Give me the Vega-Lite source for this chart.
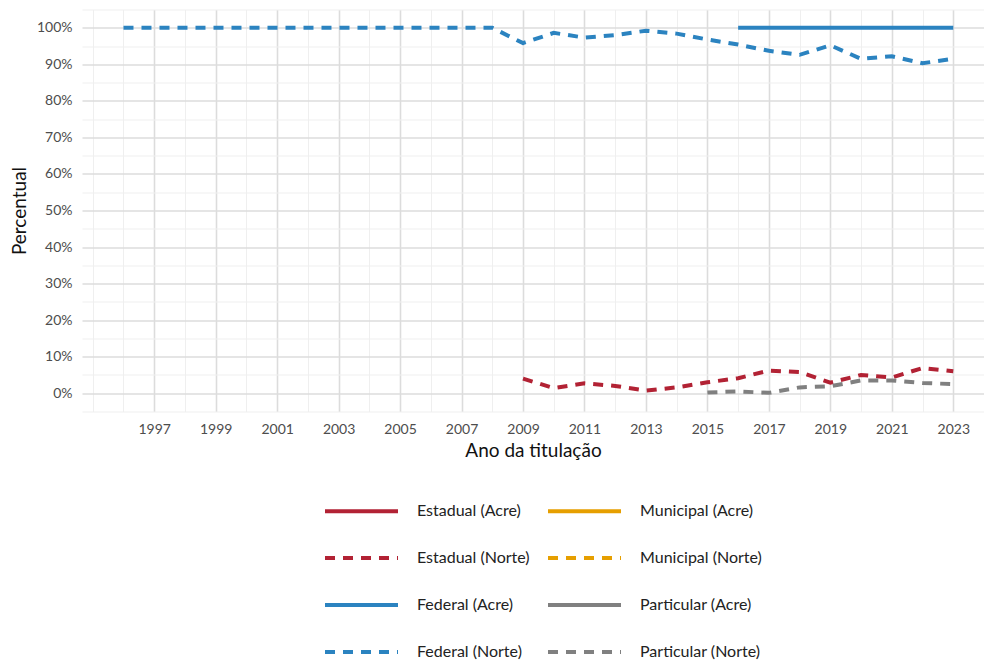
{
  "$schema": "https://vega.github.io/schema/vega-lite/v6.json",
  "autosize": {"type": "none"},
  "width": 902,
  "height": 402,
  "padding": {"left": 82, "top": 9.5, "right": 0, "bottom": 249.5},
  "background": "white",
  "config": {
    "font": "Lato",
    "view": {"stroke": null},
    "axis": {"domain": false, "ticks": false, "labelColor": "#4d4d4d", "labelFontSize": 14, "titleColor": "#111111", "titleFontSize": 19, "titleFontWeight": "normal"}
  },
  "data": {"values": [
    {"ano": 1996, "serie": "Federal (Norte)", "pct": 1.0},
    {"ano": 1997, "serie": "Federal (Norte)", "pct": 1.0},
    {"ano": 1998, "serie": "Federal (Norte)", "pct": 1.0},
    {"ano": 1999, "serie": "Federal (Norte)", "pct": 1.0},
    {"ano": 2000, "serie": "Federal (Norte)", "pct": 1.0},
    {"ano": 2001, "serie": "Federal (Norte)", "pct": 1.0},
    {"ano": 2002, "serie": "Federal (Norte)", "pct": 1.0},
    {"ano": 2003, "serie": "Federal (Norte)", "pct": 1.0},
    {"ano": 2004, "serie": "Federal (Norte)", "pct": 1.0},
    {"ano": 2005, "serie": "Federal (Norte)", "pct": 1.0},
    {"ano": 2006, "serie": "Federal (Norte)", "pct": 1.0},
    {"ano": 2007, "serie": "Federal (Norte)", "pct": 1.0},
    {"ano": 2008, "serie": "Federal (Norte)", "pct": 1.0},
    {"ano": 2009, "serie": "Federal (Norte)", "pct": 0.958},
    {"ano": 2010, "serie": "Federal (Norte)", "pct": 0.986},
    {"ano": 2011, "serie": "Federal (Norte)", "pct": 0.973},
    {"ano": 2012, "serie": "Federal (Norte)", "pct": 0.980},
    {"ano": 2013, "serie": "Federal (Norte)", "pct": 0.992},
    {"ano": 2014, "serie": "Federal (Norte)", "pct": 0.984},
    {"ano": 2015, "serie": "Federal (Norte)", "pct": 0.968},
    {"ano": 2016, "serie": "Federal (Norte)", "pct": 0.954},
    {"ano": 2017, "serie": "Federal (Norte)", "pct": 0.937},
    {"ano": 2018, "serie": "Federal (Norte)", "pct": 0.926},
    {"ano": 2019, "serie": "Federal (Norte)", "pct": 0.952},
    {"ano": 2020, "serie": "Federal (Norte)", "pct": 0.915},
    {"ano": 2021, "serie": "Federal (Norte)", "pct": 0.922},
    {"ano": 2022, "serie": "Federal (Norte)", "pct": 0.903},
    {"ano": 2023, "serie": "Federal (Norte)", "pct": 0.915},
    {"ano": 2016, "serie": "Federal (Acre)", "pct": 1.0},
    {"ano": 2017, "serie": "Federal (Acre)", "pct": 1.0},
    {"ano": 2018, "serie": "Federal (Acre)", "pct": 1.0},
    {"ano": 2019, "serie": "Federal (Acre)", "pct": 1.0},
    {"ano": 2020, "serie": "Federal (Acre)", "pct": 1.0},
    {"ano": 2021, "serie": "Federal (Acre)", "pct": 1.0},
    {"ano": 2022, "serie": "Federal (Acre)", "pct": 1.0},
    {"ano": 2023, "serie": "Federal (Acre)", "pct": 1.0},
    {"ano": 2009, "serie": "Estadual (Norte)", "pct": 0.040},
    {"ano": 2010, "serie": "Estadual (Norte)", "pct": 0.014},
    {"ano": 2011, "serie": "Estadual (Norte)", "pct": 0.027},
    {"ano": 2012, "serie": "Estadual (Norte)", "pct": 0.020},
    {"ano": 2013, "serie": "Estadual (Norte)", "pct": 0.007},
    {"ano": 2014, "serie": "Estadual (Norte)", "pct": 0.016},
    {"ano": 2015, "serie": "Estadual (Norte)", "pct": 0.030},
    {"ano": 2016, "serie": "Estadual (Norte)", "pct": 0.041},
    {"ano": 2017, "serie": "Estadual (Norte)", "pct": 0.062},
    {"ano": 2018, "serie": "Estadual (Norte)", "pct": 0.058},
    {"ano": 2019, "serie": "Estadual (Norte)", "pct": 0.029},
    {"ano": 2020, "serie": "Estadual (Norte)", "pct": 0.050},
    {"ano": 2021, "serie": "Estadual (Norte)", "pct": 0.043},
    {"ano": 2022, "serie": "Estadual (Norte)", "pct": 0.069},
    {"ano": 2023, "serie": "Estadual (Norte)", "pct": 0.060},
    {"ano": 2015, "serie": "Particular (Norte)", "pct": 0.002},
    {"ano": 2016, "serie": "Particular (Norte)", "pct": 0.005},
    {"ano": 2017, "serie": "Particular (Norte)", "pct": 0.001},
    {"ano": 2018, "serie": "Particular (Norte)", "pct": 0.016},
    {"ano": 2019, "serie": "Particular (Norte)", "pct": 0.019},
    {"ano": 2020, "serie": "Particular (Norte)", "pct": 0.035},
    {"ano": 2021, "serie": "Particular (Norte)", "pct": 0.035},
    {"ano": 2022, "serie": "Particular (Norte)", "pct": 0.028},
    {"ano": 2023, "serie": "Particular (Norte)", "pct": 0.025}
  ]},
  "mark": {"type": "line", "strokeWidth": 4, "clip": true},
  "encoding": {
    "x": {
      "field": "ano", "type": "quantitative",
      "scale": {"domain": [1994.65, 2024.0], "nice": false, "zero": false},
      "axis": {
        "title": "Ano da titulação",
        "values": [1995, 1996, 1997, 1998, 1999, 2000, 2001, 2002, 2003, 2004, 2005, 2006, 2007, 2008, 2009, 2010, 2011, 2012, 2013, 2014, 2015, 2016, 2017, 2018, 2019, 2020, 2021, 2022, 2023, 2024],
        "labelExpr": "(datum.value % 2 == 1 && datum.value >= 1997) ? datum.value : ''",
        "labelPadding": 11,
        "titlePadding": 5,
        "gridColor": {"condition": {"test": "datum.value % 2 == 1 && datum.value >= 1997", "value": "#dcdcdc"}, "value": "#efefef"},
        "gridWidth": {"condition": {"test": "datum.value % 2 == 1 && datum.value >= 1997", "value": 1.6}, "value": 1.1}
      }
    },
    "y": {
      "field": "pct", "type": "quantitative",
      "scale": {"domain": [-0.05, 1.05], "nice": false, "zero": false},
      "axis": {
        "title": "Percentual",
        "values": [-0.05, 0, 0.05, 0.1, 0.15, 0.2, 0.25, 0.3, 0.35, 0.4, 0.45, 0.5, 0.55, 0.6, 0.65, 0.7, 0.75, 0.8, 0.85, 0.9, 0.95, 1.0, 1.05],
        "labelExpr": "(round(datum.value*100) % 10 == 0 && datum.value > -0.01 && datum.value < 1.01) ? format(datum.value, '.0%') : ''",
        "labelPadding": 10,
        "titlePadding": 7,
        "gridColor": {"condition": {"test": "round(datum.value*100) % 10 == 0 && datum.value > -0.01 && datum.value < 1.01", "value": "#dcdcdc"}, "value": "#efefef"},
        "gridWidth": {"condition": {"test": "round(datum.value*100) % 10 == 0 && datum.value > -0.01 && datum.value < 1.01", "value": 1.6}, "value": 1.1}
      }
    },
    "color": {
      "field": "serie", "type": "nominal",
      "scale": {
        "domain": ["Estadual (Acre)", "Estadual (Norte)", "Federal (Acre)", "Federal (Norte)", "Municipal (Acre)", "Municipal (Norte)", "Particular (Acre)", "Particular (Norte)"],
        "range": ["#b22234", "#b22234", "#2b83c0", "#2b83c0", "#e69f00", "#e69f00", "#808080", "#808080"]
      },
      "legend": {
        "title": null, "orient": "none", "legendX": 241, "legendY": 463,
        "columns": 2, "symbolType": "stroke", "symbolSize": 5329, "symbolStrokeWidth": 4,
        "labelFontSize": 16, "labelColor": "#222222", "labelOffset": 17,
        "columnPadding": 10, "rowPadding": -24
      }
    },
    "strokeDash": {
      "field": "serie", "type": "nominal",
      "scale": {
        "domain": ["Estadual (Acre)", "Estadual (Norte)", "Federal (Acre)", "Federal (Norte)", "Municipal (Acre)", "Municipal (Norte)", "Particular (Acre)", "Particular (Norte)"],
        "range": [[1, 0], [10, 8], [1, 0], [10, 8], [1, 0], [10, 8], [1, 0], [10, 8]]
      },
      "legend": {
        "title": null, "orient": "none", "legendX": 241, "legendY": 463,
        "columns": 2, "symbolType": "stroke", "symbolSize": 5329, "symbolStrokeWidth": 4,
        "labelFontSize": 16, "labelColor": "#222222", "labelOffset": 17,
        "columnPadding": 10, "rowPadding": -24
      }
    }
  }
}
